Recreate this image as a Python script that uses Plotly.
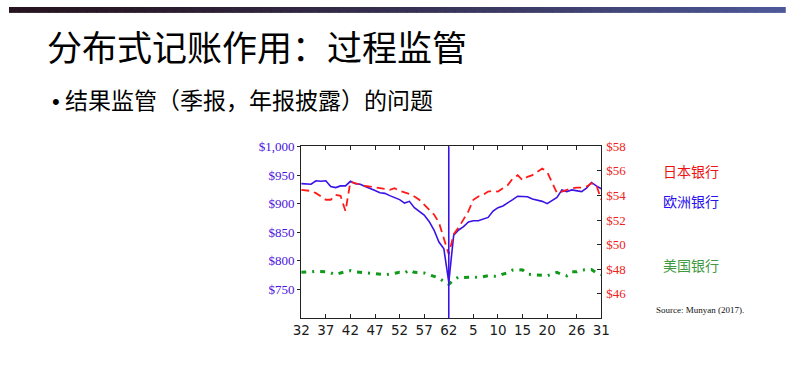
import plotly.graph_objects as go

# ---------------- data ----------------
day_labels = list(range(32, 63)) + list(range(1, 32))   # 62 trading-day labels
tick_days = [32, 37, 42, 47, 52, 57, 62, 5, 10, 15, 20, 26, 31]
event_index = 30   # vertical marker (day 62)

europe_bank = [935, 935, 934, 940, 939, 940, 930, 928, 931, 931,
               939, 935, 934, 930, 927, 923, 919, 918, 914, 911,
               907, 901, 904, 893, 887, 880, 869, 854, 833, 821,
               763, 845, 854, 860, 868, 870, 870, 873, 876, 887,
               893, 896, 901, 907, 913, 913, 912, 908, 906, 904,
               900, 906, 911, 924, 921, 924, 922, 921, 927, 937,
               931, 926]

japan_bank = [54.45, 54.43, 54.37, 54.19, 53.92, 53.65, 53.65, 54.05, 53.97, 52.72,
              55.12, 54.99, 54.85, 54.77, 54.72, 54.67, 54.59, 54.53, 54.45, 54.59,
              54.37, 54.27, 54.13, 53.92, 53.65, 53.25, 52.85, 52.45, 51.79, 50.59,
              49.20, 50.85, 51.39, 52.05, 52.72, 53.65, 53.92, 54.05, 54.32, 54.37,
              54.32, 54.59, 54.85, 55.39, 55.65, 55.25, 55.52, 55.65, 55.92, 56.19,
              55.92, 55.12, 54.19, 54.32, 54.45, 54.59, 54.64, 54.64, 54.72, 54.99,
              54.85, 53.65]

us_bank = [780, 780, 781, 782, 782, 781, 779, 776, 779, 781,
           783, 781, 780, 779, 779, 777, 777, 776, 777, 779,
           780, 779, 784, 780, 779, 779, 776, 773, 770, 764,
           759, 767, 772, 771, 772, 772, 771, 772, 774, 773,
           773, 777, 779, 784, 785, 784, 777, 776, 776, 775,
           774, 777, 780, 776, 774, 781, 781, 784, 785, 785,
           779, 776]

left_ticks = [750, 800, 850, 900, 950, 1000]
right_ticks = [46, 48, 50, 52, 54, 56, 58]

title_text = "分布式记账作用：过程监管"
bullet_text = "结果监管（季报，年报披露）的问题"
source_text = "Source: Munyan (2017)."
label_japan = "日本银行"
label_europe = "欧洲银行"
label_us = "美国银行"

# ---------------- figure ----------------
W, H = 794, 380
x_idx = list(range(len(day_labels)))
tick_idx = []
start = 0
for d in tick_days:
    i = day_labels.index(d, start)
    tick_idx.append(i)
    start = i + 1

BLUE = "#3a12e6"
RED = "#ff1a1a"
GREEN = "#0f9a1a"

fig = go.Figure()
fig.add_trace(go.Scatter(x=x_idx, y=europe_bank, mode="lines", yaxis="y",
                         line=dict(color=BLUE, width=1.6), showlegend=False))
fig.add_trace(go.Scatter(x=x_idx, y=us_bank, mode="lines", yaxis="y",
                         line=dict(color=GREEN, width=3, dash="5px,6px,2px,6px"),
                         showlegend=False))
fig.add_trace(go.Scatter(x=x_idx, y=japan_bank, mode="lines", yaxis="y2",
                         line=dict(color=RED, width=1.8, dash="8px,5px"),
                         showlegend=False))

def px(x):
    return x / W

def py(y):
    return 1 - y / H

x0, x1 = 299, 606
y0, y1 = 142, 317

shapes = []
# gradient header bar
n = 80
c_left = (38, 20, 32)
c_right = (76, 88, 152)
for k in range(n):
    t = k / (n - 1)
    col = tuple(int(round(c_left[j] + (c_right[j] - c_left[j]) * (t ** 1.3))) for j in range(3))
    shapes.append(dict(type="rect", xref="paper", yref="paper",
                       x0=k / n, x1=(k + 1) / n + 0.001, y0=py(6), y1=1,
                       fillcolor="rgb(%d,%d,%d)" % col, line=dict(width=0), layer="below"))
# event marker line
shapes.append(dict(type="line", xref="x", yref="paper", x0=event_index, x1=event_index,
                   y0=py(y1), y1=py(y0), line=dict(color=BLUE, width=1.6)))

annotations = [
    dict(text=title_text, x=px(37), y=py(39), xref="paper", yref="paper",
         xanchor="left", yanchor="middle", showarrow=False,
         font=dict(family="Noto Sans CJK SC", size=35, color="#000000")),
    dict(text="•", x=px(42), y=py(96), xref="paper", yref="paper",
         xanchor="left", yanchor="middle", showarrow=False,
         font=dict(family="Liberation Sans", size=22, color="#000000")),
    dict(text=bullet_text, x=px(55), y=py(94), xref="paper", yref="paper",
         xanchor="left", yanchor="middle", showarrow=False,
         font=dict(family="Noto Sans CJK SC", size=23, color="#000000")),
    dict(text=label_japan, x=px(667), y=py(167), xref="paper", yref="paper",
         xanchor="left", yanchor="middle", showarrow=False,
         font=dict(family="Noto Sans CJK SC", size=14, color="#ee1111")),
    dict(text=label_europe, x=px(667), y=py(198), xref="paper", yref="paper",
         xanchor="left", yanchor="middle", showarrow=False,
         font=dict(family="Noto Sans CJK SC", size=14, color="#2a10ee")),
    dict(text=label_us, x=px(667), y=py(263), xref="paper", yref="paper",
         xanchor="left", yanchor="middle", showarrow=False,
         font=dict(family="Noto Sans CJK SC", size=14, color="#3f9a3f")),
    dict(text=source_text, x=px(660), y=py(309), xref="paper", yref="paper",
         xanchor="left", yanchor="middle", showarrow=False,
         font=dict(family="Liberation Serif", size=9, color="#111111")),
]

fig.update_layout(
    width=W, height=H,
    margin=dict(l=0, r=0, t=0, b=0),
    paper_bgcolor="white", plot_bgcolor="white",
    shapes=shapes, annotations=annotations,
    xaxis=dict(domain=[px(x0), px(x1)], range=[0, len(day_labels) - 1],
               tickvals=tick_idx, ticktext=[str(d) for d in tick_days],
               ticks="inside", ticklen=4, tickcolor="#222222",
               showline=True, linecolor="#222222", linewidth=1.2, mirror="ticks",
               showgrid=False, zeroline=False,
               tickfont=dict(family="DejaVu Sans", size=13.5, color="#1a1a1a")),
    yaxis=dict(domain=[py(y1), py(y0)], range=[700, 1000],
               tickvals=left_ticks, ticktext=["$" + format(v, ",") for v in left_ticks],
               ticks="outside", ticklen=3, tickcolor="#222222",
               showline=True, linecolor="#222222", linewidth=1.2, mirror=True,
               showgrid=False, zeroline=False,
               tickfont=dict(family="Liberation Serif", size=13, color="#4a12e0")),
    yaxis2=dict(overlaying="y", side="right", anchor="x", range=[44, 58],
                tickvals=right_ticks, ticktext=["$%d" % v for v in right_ticks],
                ticks="inside", ticklen=4, tickcolor="#222222", ticklabelstandoff=4,
                showline=False, showgrid=False, zeroline=False,
                tickfont=dict(family="Liberation Serif", size=13, color="#ee2222")),
)

fig.write_html(
    "out.html", config={"displayModeBar": False},
    post_script=("document.body.style.margin='0';document.body.style.padding='0';"
                 "var d=document.getElementById('{plot_id}');"
                 "d.style.position='absolute';d.style.top='0px';d.style.left='0px';"))
